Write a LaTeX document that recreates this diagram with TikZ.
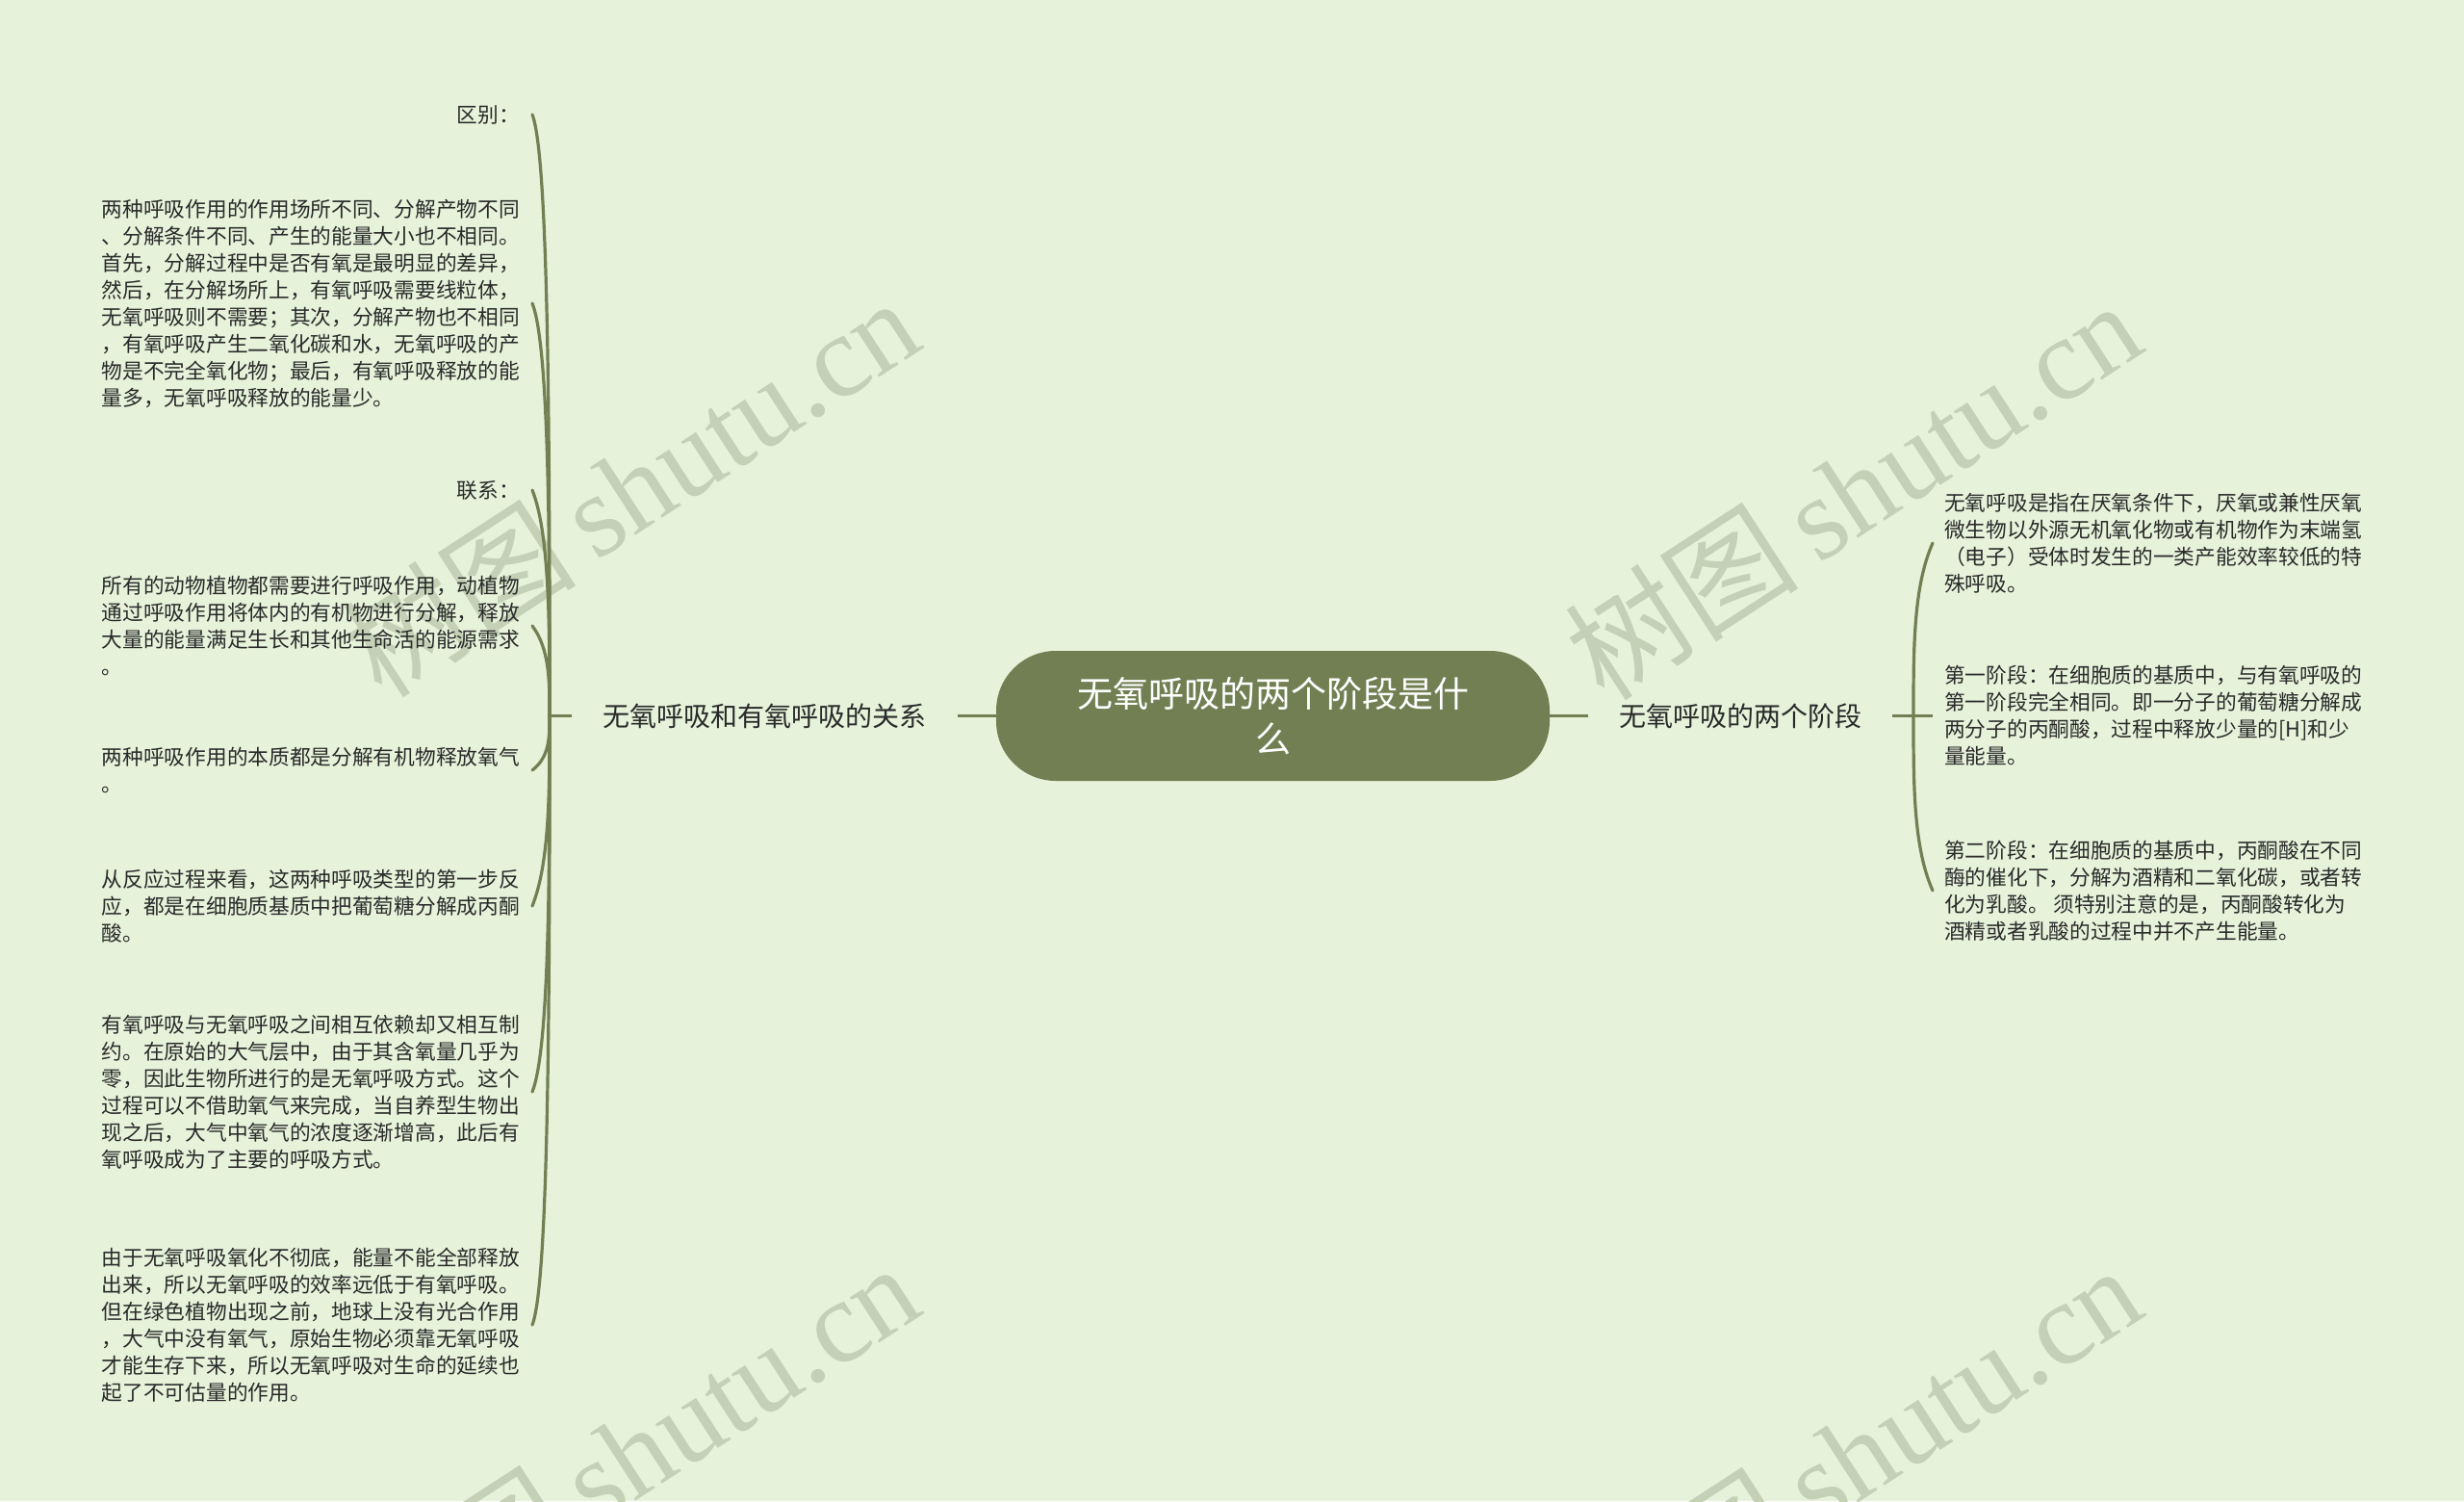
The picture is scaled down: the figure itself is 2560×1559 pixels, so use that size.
\documentclass[tikz,border=0pt]{standalone}
\usepackage{fontspec}
\setmainfont{Noto Sans CJK SC}
\newfontfamily\wmlatin{Liberation Serif}
\definecolor{bg}{HTML}{E6F2DA}
\definecolor{olive}{HTML}{717F52}
\definecolor{wm}{HTML}{C4D1B6}
\definecolor{txt}{HTML}{2A2A2A}
\tikzset{
  para/.style={inner ysep=0pt, inner xsep=13pt, align=left, text=txt, font=\fontsize{21.7}{28}\selectfont},
  lpara/.style={para, anchor=east},
  rpara/.style={para, anchor=west, inner xsep=12pt},
  topic/.style={text=txt, font=\fontsize{28}{34}\selectfont, inner xsep=32pt, inner ysep=0pt},
  central/.style={fill=olive, rounded corners=62pt, minimum width=575pt, minimum height=135pt,
    text=white, align=center, font=\fontsize{37}{47}\selectfont},
  branch/.style={draw=olive, line width=3.2pt, line cap=round},
  link/.style={draw=olive, line width=3.5pt},
  wmark/.style={text=wm, rotate=33, inner sep=0pt, font=\fontsize{122}{122}\selectfont},
}
\begin{document}
\begin{tikzpicture}[x=1pt,y=-1pt]
\fill[bg] (0,0) rectangle (2560,1559);
\useasboundingbox (0,0) rectangle (2560,1559);

% watermarks
\node[wmark] (W1) at (655,505) {树图\,{\wmlatin shutu.cn}};
\node[wmark] (W2) at (1925,508) {树图\,{\wmlatin shutu.cn}};
\node[wmark] (W3) at (655,1508) {树图\,{\wmlatin shutu.cn}};
\node[wmark] (W4) at (1925,1510) {树图\,{\wmlatin shutu.cn}};

% central and topics
\node[central] (C) at (1322.5,743.5) {无氧呼吸的两个阶段是什\\么};
\node[topic] (LN) at (794.5,743.5) {无氧呼吸和有氧呼吸的关系};
\node[topic] (RN) at (1808,743.5) {无氧呼吸的两个阶段};

\coordinate (SL) at (571,743.5);
\coordinate (SR) at (1988,743.5);

% left children
\node[lpara] (L1) at (553,119) {区别：};
\node[lpara] (L2) at (553,315) {两种呼吸作用的作用场所不同、分解产物不同\\、分解条件不同、产生的能量大小也不相同。\\首先，分解过程中是否有氧是最明显的差异，\\然后，在分解场所上，有氧呼吸需要线粒体，\\无氧呼吸则不需要；其次，分解产物也不相同\\，有氧呼吸产生二氧化碳和水，无氧呼吸的产\\物是不完全氧化物；最后，有氧呼吸释放的能\\量多，无氧呼吸释放的能量少。};
\node[lpara] (L3) at (553,509) {联系：};
\node[lpara] (L4) at (553,650) {所有的动物植物都需要进行呼吸作用，动植物\\通过呼吸作用将体内的有机物进行分解，释放\\大量的能量满足生长和其他生命活的能源需求\\。};
\node[lpara] (L5) at (553,800) {两种呼吸作用的本质都是分解有机物释放氧气\\。};
\node[lpara] (L6) at (553,941) {从反应过程来看，这两种呼吸类型的第一步反\\应，都是在细胞质基质中把葡萄糖分解成丙酮\\酸。};
\node[lpara] (L7) at (553,1134) {有氧呼吸与无氧呼吸之间相互依赖却又相互制\\约。在原始的大气层中，由于其含氧量几乎为\\零，因此生物所进行的是无氧呼吸方式。这个\\过程可以不借助氧气来完成，当自养型生物出\\现之后，大气中氧气的浓度逐渐增高，此后有\\氧呼吸成为了主要的呼吸方式。};
\node[lpara] (L8) at (553,1376) {由于无氧呼吸氧化不彻底，能量不能全部释放\\出来，所以无氧呼吸的效率远低于有氧呼吸。\\但在绿色植物出现之前，地球上没有光合作用\\，大气中没有氧气，原始生物必须靠无氧呼吸\\才能生存下来，所以无氧呼吸对生命的延续也\\起了不可估量的作用。};

% right children
\node[rpara] (R1) at (2008,564) {无氧呼吸是指在厌氧条件下，厌氧或兼性厌氧\\微生物以外源无机氧化物或有机物作为末端氢\\（电子）受体时发生的一类产能效率较低的特\\殊呼吸。};
\node[rpara] (R2) at (2008,743.5) {第一阶段：在细胞质的基质中，与有氧呼吸的\\第一阶段完全相同。即一分子的葡萄糖分解成\\两分子的丙酮酸，过程中释放少量的[H]和少\\量能量。};
\node[rpara] (R3) at (2008,925) {第二阶段：在细胞质的基质中，丙酮酸在不同\\酶的催化下，分解为酒精和二氧化碳，或者转\\化为乳酸。 须特别注意的是，丙酮酸转化为\\酒精或者乳酸的过程中并不产生能量。};

% straight links
\draw[link] (C.west) -- (LN.east);
\draw[link] (C.east) -- (RN.west);
\draw[link] (LN.west) -- (SL);
\draw[link] (RN.east) -- (SR) -- (R2.west);

% left branches
\draw[branch] (SL) .. controls (571,494) and (571,164) .. (L1.east);
\draw[branch] (SL) .. controls (571,572) and (571,360) .. (L2.east);
\draw[branch] (SL) .. controls (571,650) and (571,554) .. (L3.east);
\draw[branch] (SL) .. controls (571,707) and (571,674) .. (L4.east);
\draw[branch] (SL) .. controls (571,766) and (571,786) .. (L5.east);
\draw[branch] (SL) .. controls (571,823) and (571,896) .. (L6.east);
\draw[branch] (SL) .. controls (571,900) and (571,1089) .. (L7.east);
\draw[branch] (SL) .. controls (571,997) and (571,1331) .. (L8.east);

% right branches
\draw[branch] (SR) .. controls (1988,672) and (1988,609) .. (R1.west);
\draw[branch] (SR) .. controls (1988,816) and (1988,880) .. (R3.west);
\end{tikzpicture}
\end{document}
